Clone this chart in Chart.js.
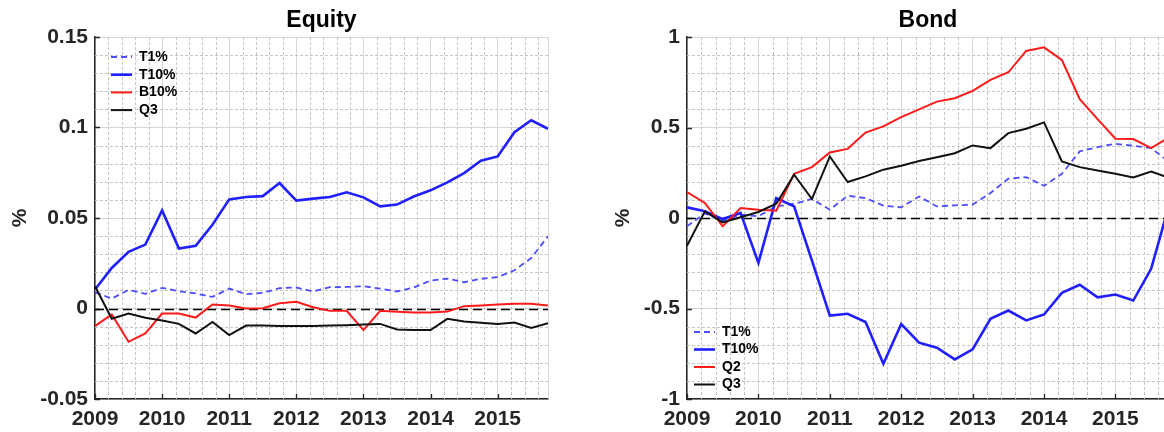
<!DOCTYPE html>
<html>
<head>
<meta charset="utf-8">
<script src="https://cdn.jsdelivr.net/npm/chart.js@4.4.1/dist/chart.umd.min.js"></script>
<style>
  html, body { margin: 0; padding: 0; background: #fff; overflow: hidden; }
  body { width: 1164px; height: 432px; position: relative; }
  canvas { position: absolute; top: 0; }
  #equityChart { left: 0; }
  #bondChart { left: 603px; }
</style>
</head>
<body>
<canvas id="equityChart" width="575" height="432"></canvas>
<canvas id="bondChart" width="593" height="432"></canvas>
<script>
// quarterly observation dates
const quarters = [2009, 2009.25, 2009.5, 2009.75, 2010, 2010.25, 2010.5, 2010.75,
                  2011, 2011.25, 2011.5, 2011.75, 2012, 2012.25, 2012.5, 2012.75,
                  2013, 2013.25, 2013.5, 2013.75, 2014, 2014.25, 2014.5, 2014.75,
                  2015, 2015.25, 2015.5, 2015.75];
const yearTicks = [2009, 2010, 2011, 2012, 2013, 2014, 2015];
const equityTicks = [-0.05, 0, 0.05, 0.1, 0.15];
const bondTicks = [-1, -0.5, 0, 0.5, 1];

// Equity panel
const eqT1 = [0.0090, 0.0055, 0.0103, 0.0081, 0.0114, 0.0096, 0.0083, 0.0064, 0.0110, 0.0079, 0.0086, 0.0112, 0.0116, 0.0094,
              0.0118, 0.0119, 0.0123, 0.0110, 0.0094, 0.0116, 0.0154, 0.0165, 0.0145, 0.0164, 0.0173, 0.0211, 0.0279, 0.0399];
const eqT10 = [0.0105, 0.0224, 0.0313, 0.0353, 0.0542, 0.0331, 0.0346, 0.0463, 0.0603, 0.0616, 0.0621, 0.0693, 0.0596, 0.0607,
               0.0616, 0.0642, 0.0614, 0.0564, 0.0574, 0.0619, 0.0653, 0.0697, 0.0748, 0.0816, 0.0840, 0.0974, 0.1040, 0.0993];
const eqB10 = [-0.0097, -0.0033, -0.0184, -0.0138, -0.0028, -0.0028, -0.0050, 0.0022, 0.0017, 0.0000, 0.0002, 0.0029, 0.0037, 0.0007,
               -0.0013, -0.0013, -0.0119, -0.0013, -0.0018, -0.0022, -0.0022, -0.0017, 0.0013, 0.0017, 0.0022, 0.0026, 0.0026, 0.0017];
const eqQ3 = [0.0123, -0.0057, -0.0028, -0.0051, -0.0066, -0.0085, -0.0138, -0.0074, -0.0147, -0.0094, -0.0094, -0.0096, -0.0097, -0.0096,
              -0.0094, -0.0092, -0.0088, -0.0085, -0.0116, -0.0119, -0.0119, -0.0057, -0.0072, -0.0079, -0.0085, -0.0077, -0.0107, -0.0081];

// Bond panel
const bdT1 = [-0.046, 0.025, -0.015, 0.018, 0.010, 0.064, 0.079, 0.105, 0.046, 0.123, 0.110, 0.068, 0.059, 0.119,
              0.064, 0.070, 0.074, 0.138, 0.217, 0.226, 0.178, 0.244, 0.368, 0.392, 0.410, 0.399, 0.386, 0.310];
const bdT10 = [0.059, 0.037, -0.006, 0.028, -0.248, 0.110, 0.064, -0.235, -0.539, -0.529, -0.575, -0.805, -0.586, -0.689,
               -0.717, -0.781, -0.726, -0.557, -0.511, -0.566, -0.533, -0.414, -0.369, -0.438, -0.423, -0.456, -0.281, 0.070];
const bdQ2 = [0.143, 0.083, -0.046, 0.055, 0.046, 0.040, 0.244, 0.281, 0.362, 0.382, 0.472, 0.506, 0.557, 0.600,
              0.643, 0.662, 0.702, 0.763, 0.805, 0.923, 0.943, 0.873, 0.656, 0.546, 0.438, 0.436, 0.386, 0.445];
const bdQ3 = [-0.153, 0.037, -0.024, 0.004, 0.033, 0.079, 0.239, 0.105, 0.340, 0.199, 0.230, 0.267, 0.289, 0.315,
              0.336, 0.358, 0.401, 0.386, 0.469, 0.493, 0.528, 0.313, 0.281, 0.263, 0.244, 0.224, 0.257, 0.222];

const FONT = "'Liberation Sans', Arial, Helvetica, sans-serif";
Chart.defaults.font.family = FONT;
Chart.defaults.font.weight = 'bold';
Chart.defaults.color = '#262626';

const isMultiple = (v, step) => Math.abs(v / step - Math.round(v / step)) < 1e-6;

// minor grid, zero line, inner tick marks and legend (MATLAB look)
const panelDecor = {
    id: 'panelDecor',
    beforeDatasetsDraw(chart, args, opts) {
        const { ctx, chartArea: a, scales: { x, y } } = chart;
        ctx.save();
        ctx.lineWidth = 1;
        ctx.strokeStyle = '#c6c6c6';
        ctx.setLineDash([3, 2]);
        ctx.beginPath();
        for (let i = 1; ; i++) {
            const v = x.min + i * opts.xMinor;
            if (v > x.max + 1e-9) break;
            if (isMultiple(v, 1)) continue;
            const px = Math.round(x.getPixelForValue(v)) + 0.5;
            ctx.moveTo(px, a.top);
            ctx.lineTo(px, a.bottom);
        }
        for (let i = 1; ; i++) {
            const v = y.min + i * opts.yMinor;
            if (v > y.max - 1e-9) break;
            if (isMultiple(v, opts.yMajor)) continue;
            const py = Math.round(y.getPixelForValue(v)) + 0.5;
            ctx.moveTo(a.left, py);
            ctx.lineTo(a.right, py);
        }
        ctx.stroke();

        // right edge of the box
        ctx.setLineDash([]);
        ctx.strokeStyle = '#d6d6d6';
        ctx.beginPath();
        ctx.moveTo(Math.round(a.right) + 0.5, a.top);
        ctx.lineTo(Math.round(a.right) + 0.5, a.bottom);
        ctx.stroke();

        // inner tick marks
        ctx.strokeStyle = '#262626';
        ctx.lineWidth = 1.3;
        ctx.beginPath();
        yearTicks.forEach(v => {
            const px = Math.round(x.getPixelForValue(v)) + 0.5;
            ctx.moveTo(px, a.bottom);
            ctx.lineTo(px, a.bottom - 5);
        });
        opts.yTicks.forEach(v => {
            const py = Math.round(y.getPixelForValue(v)) + 0.5;
            ctx.moveTo(a.left, py);
            ctx.lineTo(a.left + 5, py);
        });
        ctx.stroke();

        // zero line
        const y0 = Math.round(y.getPixelForValue(0)) + 0.5;
        ctx.strokeStyle = '#000';
        ctx.lineWidth = 1.3;
        ctx.setLineDash([9, 5]);
        ctx.beginPath();
        ctx.moveTo(a.left, y0);
        ctx.lineTo(a.right, y0);
        ctx.stroke();
        ctx.restore();
    },
    afterDraw(chart, args, opts) {
        const { ctx, chartArea: a } = chart;
        const lg = opts.legend;
        ctx.save();
        ctx.font = 'bold 14px ' + FONT;
        ctx.textBaseline = 'middle';
        chart.data.datasets.forEach((ds, i) => {
            const yy = a.top + lg.top + i * lg.rowH;
            const x0 = a.left + lg.left;
            ctx.strokeStyle = ds.borderColor;
            ctx.lineWidth = ds.borderWidth;
            ctx.setLineDash(ds.borderDash || []);
            ctx.beginPath();
            ctx.moveTo(x0, yy);
            ctx.lineTo(x0 + 21, yy);
            ctx.stroke();
            ctx.fillStyle = '#000';
            ctx.fillText(ds.label, x0 + 28, yy);
        });
        ctx.restore();
    }
};

function series(label, values, color, width, dash, order) {
    return {
        label,
        data: quarters.map((q, i) => ({ x: q, y: values[i] })),
        borderColor: color,
        borderWidth: width,
        borderDash: dash,
        pointRadius: 0,
        tension: 0,
        order
    };
}

function panelOptions(title, yTicks, yMinor, yMajor, yWidth, rightPad, legend) {
    return {
        responsive: false,
        animation: false,
        layout: { padding: { left: 0, right: rightPad, top: 0, bottom: 0 } },
        plugins: {
            legend: { display: false },
            tooltip: { enabled: false },
            title: {
                display: true,
                text: title,
                fullSize: false,
                color: '#000',
                font: { size: 23, weight: 'bold' },
                padding: { top: 7, bottom: 2.4 }
            },
            panelDecor: { xMinor: 0.2, yMinor, yMajor, yTicks, legend }
        },
        scales: {
            x: {
                type: 'linear',
                min: 2009,
                max: 2015.75,
                afterBuildTicks: s => { s.ticks = yearTicks.map(v => ({ value: v })); },
                afterFit: s => { s.height = 33; },
                ticks: { autoSkip: false, maxRotation: 0, padding: 8, font: { size: 21 }, callback: v => String(v) },
                grid: { color: '#d6d6d6', lineWidth: 1, drawTicks: false },
                border: { color: '#262626', width: 1.5 }
            },
            y: {
                min: yTicks[0],
                max: yTicks[yTicks.length - 1],
                afterBuildTicks: s => { s.ticks = yTicks.map(v => ({ value: v })); },
                afterFit: s => { s.width = yWidth; },
                ticks: { padding: 7, font: { size: 21 }, callback: v => String(v) },
                grid: { color: '#d6d6d6', lineWidth: 1, drawTicks: false },
                border: { color: '#262626', width: 1.5 },
                title: { display: true, text: '%', font: { size: 21 }, padding: { top: 8, bottom: 0 } }
            }
        }
    };
}

document.addEventListener('DOMContentLoaded', () => {
    new Chart(document.getElementById('equityChart'), {
        type: 'line',
        data: {
            datasets: [
                series('T1%', eqT1, '#4d4dff', 1.8, [6, 4], 4),
                series('T10%', eqT10, '#1f1fff', 2.6, [], 3),
                series('B10%', eqB10, '#ff1a1a', 2, [], 2),
                series('Q3', eqQ3, '#111111', 2, [], 1)
            ]
        },
        options: panelOptions('Equity', equityTicks, 0.01, 0.05, 95, 27, { left: 16, top: 20, rowH: 17.7 }),
        plugins: [panelDecor]
    });

    new Chart(document.getElementById('bondChart'), {
        type: 'line',
        data: {
            datasets: [
                series('T1%', bdT1, '#4d4dff', 1.8, [6, 4], 4),
                series('T10%', bdT10, '#1f1fff', 2.6, [], 3),
                series('Q2', bdQ2, '#ff1a1a', 2, [], 2),
                series('Q3', bdQ3, '#111111', 2, [], 1)
            ]
        },
        options: panelOptions('Bond', bondTicks, 0.1, 0.5, 84, 27, { left: 7, top: 295, rowH: 17.5 }),
        plugins: [panelDecor]
    });
});
</script>
</body>
</html>
